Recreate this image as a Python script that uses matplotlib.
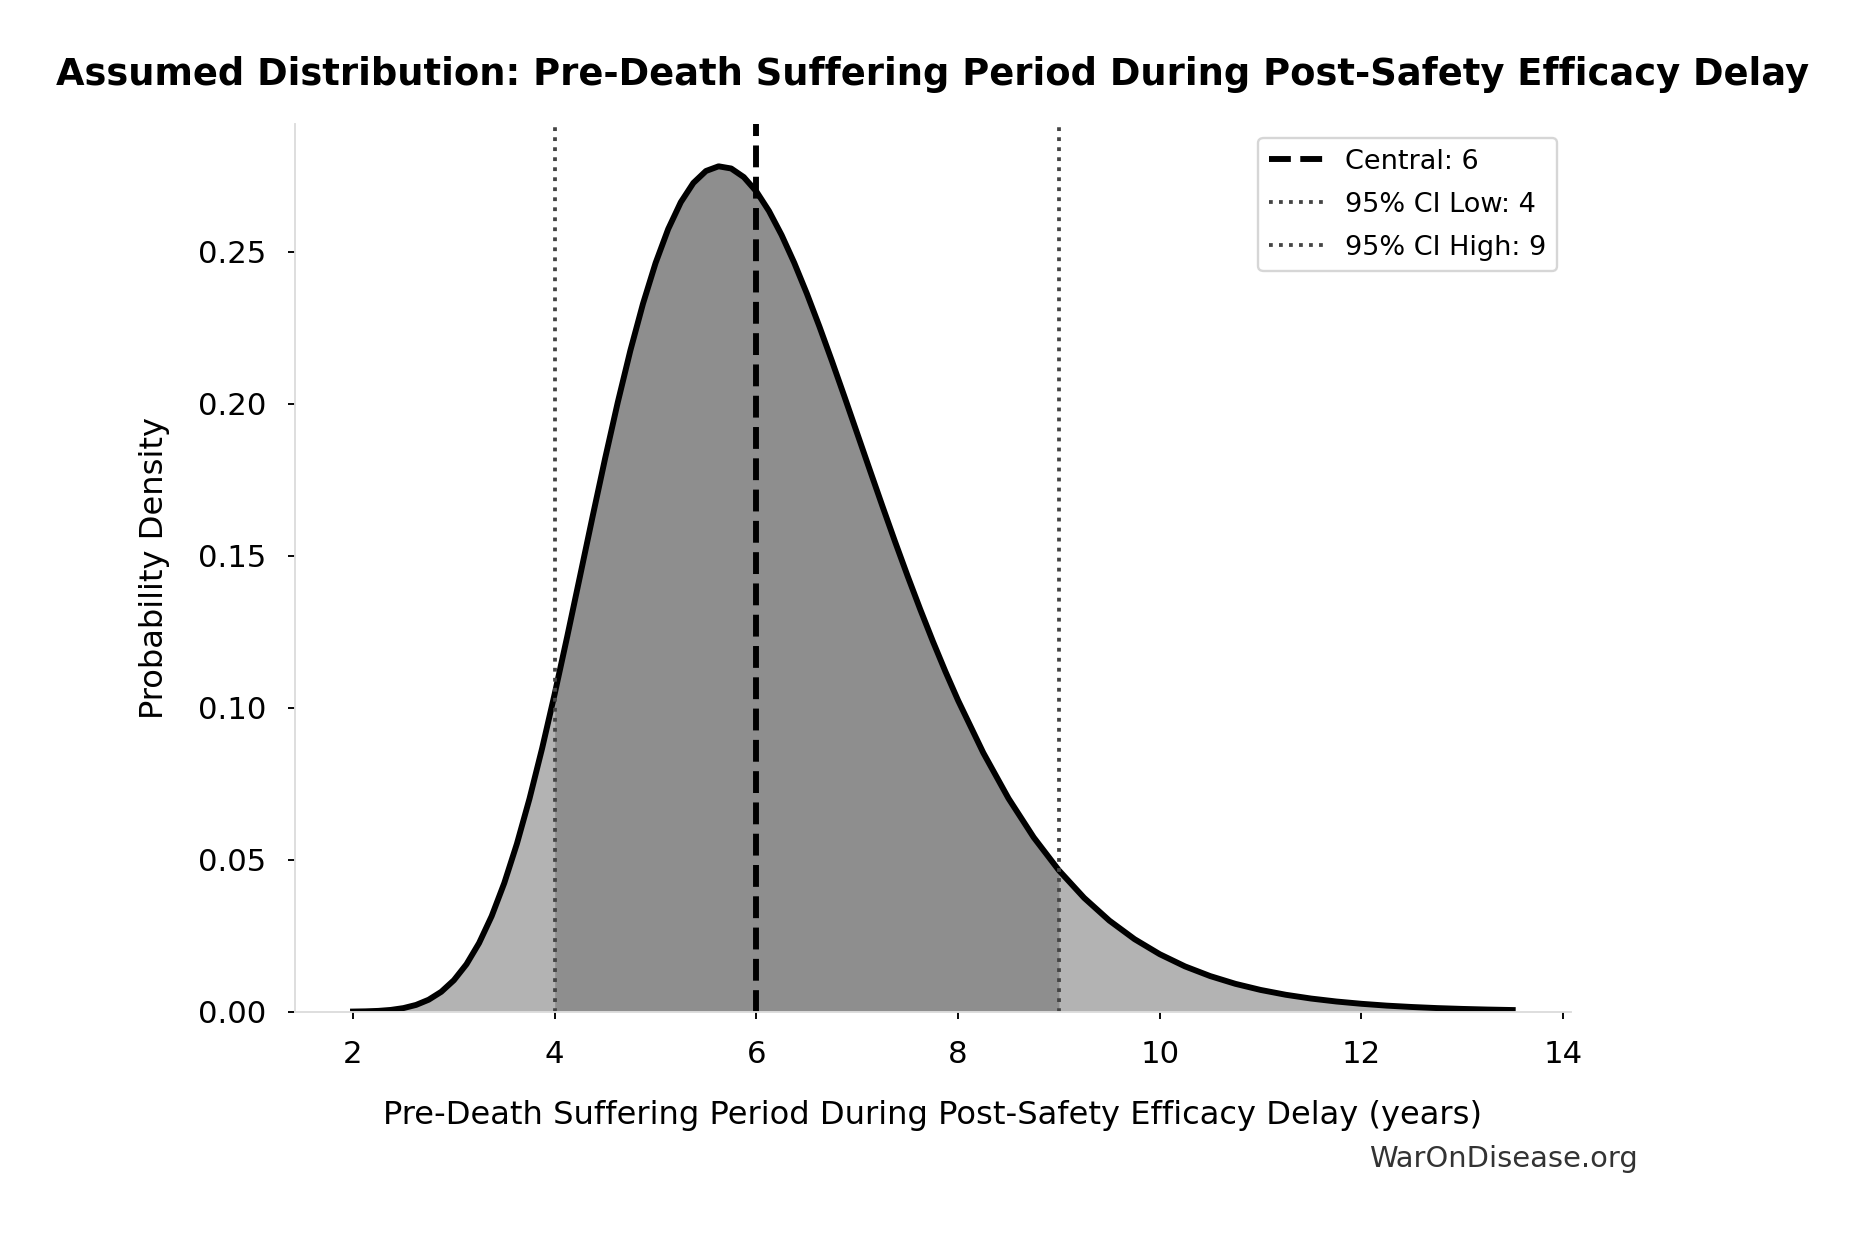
import matplotlib
matplotlib.use("Agg")
import matplotlib.pyplot as plt

# density curve (years -> density)
years = [2.0, 2.125, 2.25, 2.375, 2.5, 2.625, 2.75, 2.875, 3.0, 3.125, 3.25, 3.375,
         3.5, 3.625, 3.75, 3.875, 4.0, 4.125, 4.25, 4.375, 4.5, 4.625, 4.75,
         4.875, 5.0, 5.125, 5.25, 5.375, 5.5, 5.625, 5.75, 5.875, 6.0, 6.125,
         6.25, 6.375, 6.5, 6.625, 6.75, 6.875, 7.0, 7.125, 7.25, 7.375, 7.5,
         7.625, 7.75, 7.875, 8.0, 8.25, 8.5, 8.75, 9.0, 9.25, 9.5, 9.75, 10.0,
         10.25, 10.5, 10.75, 11.0, 11.25, 11.5, 11.75, 12.0, 12.25, 12.5, 12.75,
         13.0, 13.25, 13.5]
density = [0.00004, 0.00011, 0.00026, 0.00058, 0.00118, 0.00222, 0.00393, 0.00654,
           0.01034, 0.01560, 0.02257, 0.03144, 0.04232, 0.05522, 0.07006, 0.08661,
           0.10457, 0.12355, 0.14311, 0.16276, 0.18201, 0.20039, 0.21746, 0.23284,
           0.24624, 0.25742, 0.26624, 0.27260, 0.27653, 0.27807, 0.27735, 0.27452,
           0.26978, 0.26336, 0.25546, 0.24635, 0.23624, 0.22536, 0.21393, 0.20214,
           0.19016, 0.17816, 0.16627, 0.15460, 0.14325, 0.13231, 0.12182, 0.11183,
           0.10238, 0.08515, 0.07015, 0.05732, 0.04647, 0.03743, 0.02996, 0.02385,
           0.01890, 0.01490, 0.01171, 0.00916, 0.00715, 0.00556, 0.00432, 0.00335,
           0.00259, 0.00199, 0.00154, 0.00118, 0.00091, 0.00070, 0.00054]

central = 6
ci_low = 4
ci_high = 9

fig = plt.figure(figsize=(1865 / 170, 1233 / 170), dpi=170)
ax = fig.add_axes([0.1582, 0.1795, 0.684, 0.7199])

ax.fill_between(years, density, color="#b3b3b3", linewidth=0)
inside = [ci_low <= x <= ci_high for x in years]
ax.fill_between(years, density, where=inside, color="#8e8e8e", linewidth=0)
ax.plot(years, density, color="black", linewidth=2.5, solid_joinstyle="round")

ax.axvline(central, color="black", linestyle="--", linewidth=2.5, label=f"Central: {central}")
ax.axvline(ci_low, color="#444444", linestyle=":", linewidth=1.6, label=f"95% CI Low: {ci_low}")
ax.axvline(ci_high, color="#444444", linestyle=":", linewidth=1.6, label=f"95% CI High: {ci_high}")

ax.set_ylim(bottom=0)
ax.set_xticks([2, 4, 6, 8, 10, 12, 14])
ax.set_yticks([0.0, 0.05, 0.10, 0.15, 0.20, 0.25])
ax.yaxis.set_major_formatter(matplotlib.ticker.FormatStrFormatter("%.2f"))
ax.tick_params(labelsize=13, length=3, pad=9)
for side in ["top", "right"]:
    ax.spines[side].set_visible(False)
for side in ["left", "bottom"]:
    ax.spines[side].set_color("#dddddd")

ax.set_xlabel("Pre-Death Suffering Period During Post-Safety Efficacy Delay (years)",
              fontsize=13.6, labelpad=13)
ax.set_ylabel("Probability Density", fontsize=13.6, labelpad=12)

fig.text(0.5, 0.931, "Assumed Distribution: Pre-Death Suffering Period During Post-Safety Efficacy Delay",
         ha="center", va="baseline", fontsize=15.6, fontweight="bold")

leg = ax.legend(loc="upper right", bbox_to_anchor=(0.8349, 0.8881),
                bbox_transform=fig.transFigure, borderaxespad=0, fontsize=11.5,
                labelspacing=0.62)
leg.get_frame().set_edgecolor("#cccccc")

fig.text(0.878, 0.060, "WarOnDisease.org", ha="right", va="center",
         fontsize=12.3, color="#333333")

fig.savefig("out.png", dpi=170)
